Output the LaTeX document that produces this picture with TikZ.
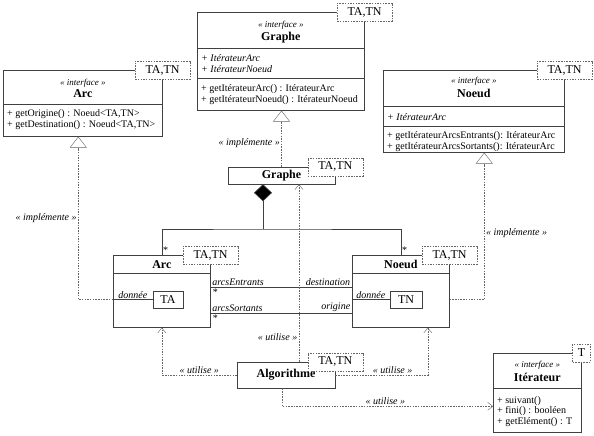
\documentclass[tikz,border=0pt]{standalone}
\usepackage{fontspec}
\setmainfont{Liberation Serif}
\usetikzlibrary{arrows.meta, positioning, calc}

\begin{document}
\begin{tikzpicture}[x=1pt,y=-1pt,
  box/.style={draw=black!75,line width=0.6pt,fill=white,anchor=north west,inner sep=0pt},
  cls/.style={draw=black!75,line width=0.6pt,fill=white,inner sep=0pt,
              font=\fontsize{12}{12}\selectfont\bfseries},
  sep/.style={draw=black!75,line width=0.6pt},
  tparam/.style={draw=black!60,dash pattern=on 1.5pt off 1.2pt,fill=white,inner sep=1pt,
                 minimum width=55pt,minimum height=18pt,font=\fontsize{12}{12}\selectfont},
  inbox/.style={draw=black!75,line width=0.6pt,fill=white,inner sep=1pt,
                minimum width=30pt,minimum height=17pt,font=\fontsize{12}{12}\selectfont},
  stereo/.style={font=\fontsize{9}{9}\selectfont\itshape,inner sep=0pt},
  cname/.style={font=\fontsize{12}{12}\selectfont\bfseries,inner sep=0pt},
  members/.style={anchor=north west,align=left,inner sep=0pt,font=\fontsize{10}{11.5}\selectfont},
  lbl/.style={font=\fontsize{10}{10}\selectfont\itshape,inner sep=1.5pt},
  assoc/.style={draw=black!75,line width=0.6pt},
  comp/.style={assoc,-{Diamond[length=17pt,width=18pt,fill=black]}},
  impl/.style={draw=black!60,dash pattern=on 1.5pt off 1.2pt,
               -{Triangle[open,length=11pt,width=17pt,fill=white]}},
  uses/.style={draw=black!60,dash pattern=on 1.5pt off 1.2pt,
               -{Straight Barb[length=5pt,width=8pt]}}
]
\useasboundingbox (0,0) rectangle (594,436);

% interfaces
\node[box,minimum width=167pt,minimum height=98pt] (graphI) at (197,12) {};
\draw[sep] ([yshift=-36pt]graphI.north west) -- ([yshift=-36pt]graphI.north east);
\draw[sep] ([yshift=-66pt]graphI.north west) -- ([yshift=-66pt]graphI.north east);
\node[stereo] at ([yshift=-13pt]graphI.north) {« interface »};
\node[cname] at ([yshift=-26pt]graphI.north) {Graphe};
\node[members,font=\fontsize{10}{11.5}\selectfont\itshape] at ([xshift=4pt,yshift=-42pt]graphI.north west)
  {+ ItérateurArc\\+ ItérateurNoeud};
\node[members] at ([xshift=4pt,yshift=-72pt]graphI.north west)
  {+ getItérateurArc() : ItérateurArc\\+ getItérateurNoeud() : ItérateurNoeud};

\node[box,minimum width=159pt,minimum height=66pt] (arcI) at (3,70) {};
\draw[sep] ([yshift=-34pt]arcI.north west) -- ([yshift=-34pt]arcI.north east);
\node[stereo] at ([yshift=-13pt]arcI.north) {« interface »};
\node[cname] at ([yshift=-24pt]arcI.north) {Arc};
\node[members] at ([xshift=4pt,yshift=-39pt]arcI.north west)
  {+ getOrigine() : Noeud<TA,TN>\\+ getDestination() : Noeud<TA,TN>};

\node[box,minimum width=181pt,minimum height=82pt] (noeudI) at (383,70) {};
\draw[sep] ([yshift=-36pt]noeudI.north west) -- ([yshift=-36pt]noeudI.north east);
\draw[sep] ([yshift=-56pt]noeudI.north west) -- ([yshift=-56pt]noeudI.north east);
\node[stereo] at ([yshift=-11pt]noeudI.north) {« interface »};
\node[cname] at ([yshift=-23pt]noeudI.north) {Noeud};
\node[members,font=\fontsize{10}{11.5}\selectfont\itshape] at ([xshift=4pt,yshift=-43pt]noeudI.north west)
  {+ ItérateurArc};
\node[members] at ([xshift=4pt,yshift=-61pt]noeudI.north west)
  {+ getItérateurArcsEntrants(): ItérateurArc\\+ getItérateurArcsSortants(): ItérateurArc};

\node[box,minimum width=88pt,minimum height=79pt] (iterI) at (493,353) {};
\draw[sep] ([yshift=-35pt]iterI.north west) -- ([yshift=-35pt]iterI.north east);
\node[stereo] at ([yshift=-12pt]iterI.north) {« interface »};
\node[cname] at ([yshift=-24pt]iterI.north) {Itérateur};
\node[members,font=\fontsize{10}{10.5}\selectfont] at ([xshift=4pt,yshift=-43pt]iterI.north west)
  {+ suivant()\\+ fini() : booléen\\+ getElément() : T};

% classes
\node[cls,minimum width=107pt,minimum height=17pt] (graphe) at (281.5,175.5) {Graphe};

\node[box,minimum width=97pt,minimum height=72pt] (arc) at (113,255) {};
\draw[sep] ([yshift=-18pt]arc.north west) -- ([yshift=-18pt]arc.north east);
\node[cname] at ([yshift=-9.5pt]arc.north) {Arc};
\node[inbox] (arcTA) at (168,299.5) {TA};

\node[box,minimum width=97pt,minimum height=72pt] (noeud) at (352,255) {};
\draw[sep] ([yshift=-18pt]noeud.north west) -- ([yshift=-18pt]noeud.north east);
\node[cname] at ([yshift=-9.5pt]noeud.north) {Noeud};
\node[inbox,minimum width=32pt] (noeudTN) at (406,299.5) {TN};

\node[cls,minimum width=98pt,minimum height=26pt] (algo) at (286,375) {Algorithme};

% attributs donnee
\draw[assoc] (arc.west |- arcTA) -- (arcTA.west) node[lbl,pos=0.5,above,yshift=-1pt] {donnée};
\draw[assoc] (noeud.west |- noeudTN) -- (noeudTN.west) node[lbl,pos=0.5,above,yshift=-1pt] {donnée};

% composition
\coordinate (bus) at (263,229);
\draw[comp] (bus) -- (bus |- graphe.south);
\draw[assoc] (arc.north) node[lbl,above right,xshift=-1pt] {*} |- (bus) -| (noeud.north)
  node[lbl,above right,xshift=-1pt] {*};

% associations
\draw[assoc] ([yshift=-32pt]arc.north east) -- ([yshift=-32pt]noeud.north west)
  node[lbl,pos=0,above right] {arcsEntrants}
  node[lbl,pos=0,below right] {*}
  node[lbl,pos=1,above left] {destination};
\draw[assoc] ([yshift=-58pt]arc.north east) -- ([yshift=-58pt]noeud.north west)
  node[lbl,pos=0,above right] {arcsSortants}
  node[lbl,pos=0,below right] {*}
  node[lbl,pos=1,above left] {origine};

% realisations
\draw[impl] (graphe.north) -- (graphe.north |- graphI.south)
  node[lbl,pos=0.42,left] {« implémente »};
\draw[impl] (arc.west |- arcTA) -| ([xshift=-4.5pt]arcI.south)
  node[lbl,pos=0.75,left] {« implémente »};
\draw[impl] (noeud.east |- noeudTN) -| ([xshift=10.5pt]noeudI.south)
  node[lbl,pos=0.725,right] {« implémente »};

% dependances
\draw[uses] ([xshift=13pt]algo.north) -- ([xshift=13pt]algo.north |- graphe.south)
  node[lbl,pos=0.14,left] {« utilise »};
\draw[uses] (algo.west) -| (arc.south) node[lbl,pos=0.25,above] {« utilise »};
\draw[uses] (algo.east) -| ([xshift=27pt]noeud.south) node[lbl,pos=0.31,above] {« utilise »};
\draw[uses] ([xshift=-4pt]algo.south) |- ([yshift=-13.5pt]iterI.west)
  node[lbl,pos=0.745,above] {« utilise »};

% parametres generiques
\node[tparam] (graphIT) at (graphI.north east) {TA,TN};
\node[tparam] (arcIT) at (arcI.north east) {TA,TN};
\node[tparam] (noeudIT) at (noeudI.north east) {TA,TN};
\node[tparam,minimum width=18pt] (iterIT) at (iterI.north east) {T};
\node[tparam] (grapheT) at (graphe.north east) {TA,TN};
\node[tparam] (arcT) at (arc.north east) {TA,TN};
\node[tparam] (noeudT) at (noeud.north east) {TA,TN};
\node[tparam] (algoT) at (algo.north east) {TA,TN};
\end{tikzpicture}
\end{document}
